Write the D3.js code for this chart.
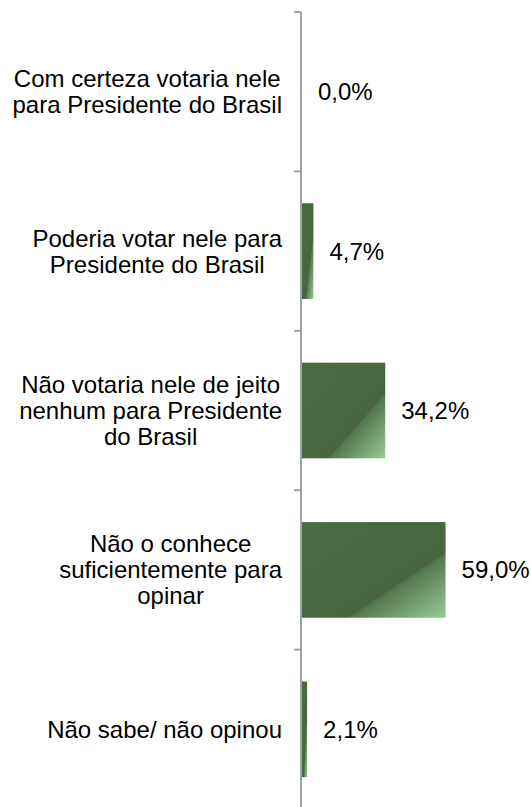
<!DOCTYPE html>
<html>
<head>
<meta charset="utf-8">
<script src="https://cdn.jsdelivr.net/npm/d3@7"></script>
<style>
  html, body { margin: 0; padding: 0; background: #fff; }
  svg { display: block; }
  text { font-family: "Liberation Sans", Arial, sans-serif; fill: #000; }
</style>
</head>
<body>
<svg id="chart" width="531" height="807"></svg>
<script>
const categories = [
  ["Com certeza votaria nele", "para Presidente do Brasil"],
  ["Poderia votar nele para", "Presidente do Brasil"],
  ["Não votaria nele de jeito", "nenhum para Presidente", "do Brasil"],
  ["Não o conhece", "suficientemente para", "opinar"],
  ["Não sabe/ não opinou"]
];
const values = [0.0, 4.7, 34.2, 59.0, 2.1];
const valueLabels = ["0,0%", "4,7%", "34,2%", "59,0%", "2,1%"];

const W = 531, H = 807;
const axisX = 301;
const fontSize = 24, lineH = 26;

const svg = d3.select("#chart");
const defs = svg.append("defs");

const g = defs.append("linearGradient").attr("id", "barGrad")
  .attr("x1", 0).attr("y1", 0).attr("x2", 1).attr("y2", 1);
g.append("stop").attr("offset", 0).attr("stop-color", "#4b6b45");
g.append("stop").attr("offset", 0.655).attr("stop-color", "#486540");
g.append("stop").attr("offset", 0.67).attr("stop-color", "#54784d");
g.append("stop").attr("offset", 1).attr("stop-color", "#98cb98");

const ids = categories.map((c, i) => "c" + i);
const y = d3.scaleBand().domain(ids).range([12, 809]).paddingInner(0.4).paddingOuter(0.2);
const x = d3.scaleLinear().domain([0, 60]).range([axisX + 1, axisX + 147]);

// bars
svg.append("g").selectAll("rect")
  .data(ids.map((id, i) => ({ id, v: values[i] })).filter(d => d.v > 0))
  .join("rect")
  .attr("x", x(0))
  .attr("y", d => y(d.id))
  .attr("width", d => x(d.v) - x(0))
  .attr("height", y.bandwidth())
  .attr("fill", "url(#barGrad)");

// axis line and ticks
const step = y.step();
svg.append("line")
  .attr("x1", axisX).attr("x2", axisX).attr("y1", 12).attr("y2", H)
  .attr("stroke", "#9ea3a8").attr("stroke-width", 2);
d3.range(categories.length + 1).forEach(i => {
  const ty = 12 + i * step;
  if (ty > H) return;
  svg.append("line")
    .attr("x1", axisX - 7).attr("x2", axisX).attr("y1", ty).attr("y2", ty)
    .attr("stroke", "#9ea3a8").attr("stroke-width", 2);
});

// category labels: block right-aligned, lines centered within block
const labelRight = 282;
ids.forEach((id, i) => {
  const lines = categories[i];
  const cy = y(id) + y.bandwidth() / 2;
  const grp = svg.append("g");
  const texts = lines.map((ln, k) => grp.append("text")
    .attr("font-size", fontSize)
    .attr("text-anchor", "middle")
    .attr("dominant-baseline", "central")
    .attr("y", cy + (k - (lines.length - 1) / 2) * lineH)
    .text(ln));
  const maxW = d3.max(texts, t => t.node().getComputedTextLength());
  texts.forEach(t => t.attr("x", labelRight - maxW / 2));
});

// value labels
ids.forEach((id, i) => {
  svg.append("text")
    .attr("x", x(values[i]) + 16)
    .attr("y", y(id) + y.bandwidth() / 2)
    .attr("font-size", fontSize)
    .attr("dominant-baseline", "central")
    .text(valueLabels[i]);
});
</script>
</body>
</html>
